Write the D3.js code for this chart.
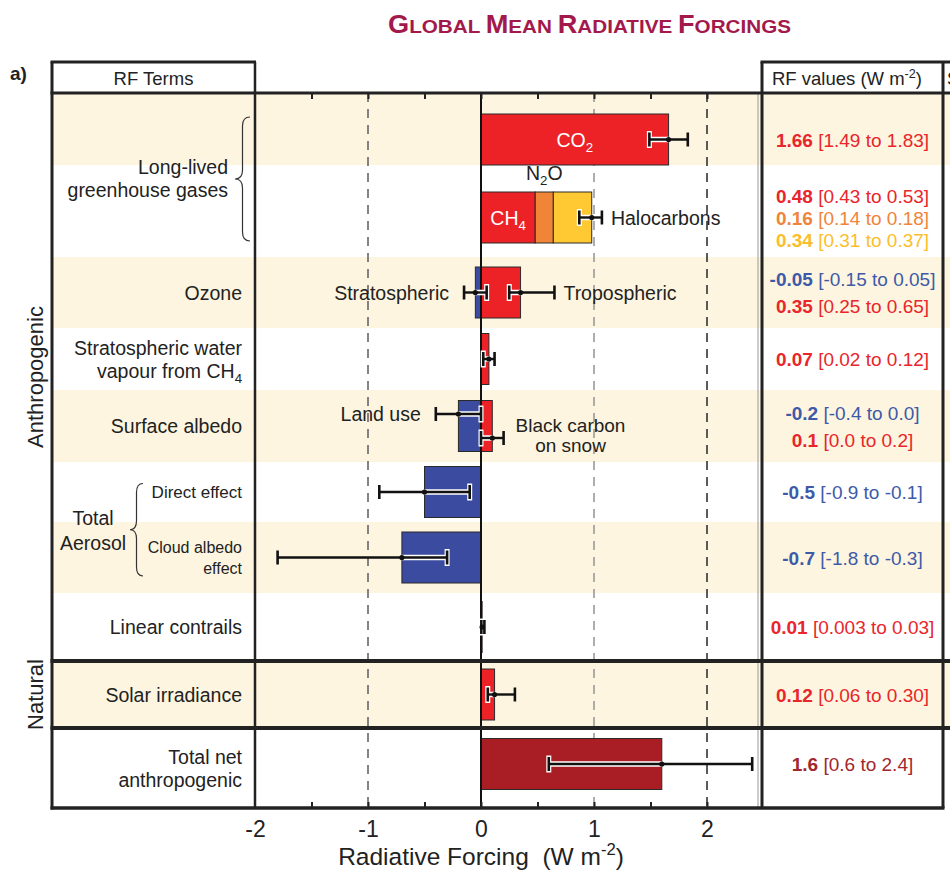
<!DOCTYPE html>
<html><head><meta charset="utf-8">
<script src="https://cdn.jsdelivr.net/npm/d3@7"></script>
<style>body{margin:0;background:#fff} svg{display:block}</style>
</head><body><svg id="c" width="950" height="871"></svg>
<script>
// ---------------- DATA ----------------
const barTerms = ["CO2","CH4","N2O","Halocarbons","Stratospheric ozone","Tropospheric ozone","Stratospheric water vapour from CH4","Land use","Black carbon on snow","Aerosol direct effect","Aerosol cloud albedo effect","Linear contrails","Solar irradiance","Total net anthropogenic"];
const barRow   = [0,1,1,1,2,2,3,4,4,5,6,7,8,9];
const barValue = [1.66,0.48,0.16,0.34,-0.05,0.35,0.07,-0.2,0.1,-0.5,-0.7,0.01,0.12,1.6];
const barKind  = ["warm","warm","n2o","halo","cool","warm","warm","cool","warm","cool","cool","warm","warm","total"];
const valueLabels = ["1.66 [1.49 to 1.83]","0.48 [0.43 to 0.53]","0.16 [0.14 to 0.18]","0.34 [0.31 to 0.37]","-0.05 [-0.15 to 0.05]","0.35 [0.25 to 0.65]","0.07 [0.02 to 0.12]","-0.2 [-0.4 to 0.0]","0.1 [0.0 to 0.2]","-0.5 [-0.9 to -0.1]","-0.7 [-1.8 to -0.3]","0.01 [0.003 to 0.03]","0.12 [0.06 to 0.30]","1.6 [0.6 to 2.4]"];

const errRow   = [0,1,2,2,3,4,4,5,6,7,8,9];
const errValue = [1.66,0.98,-0.05,0.35,0.07,-0.2,0.1,-0.5,-0.7,0.01,0.12,1.6];
const errLow   = [1.49,0.87,-0.15,0.25,0.02,-0.4,0.0,-0.9,-1.8,0.003,0.06,0.6];
const errHigh  = [1.83,1.07,0.05,0.65,0.12,0.0,0.2,-0.1,-0.3,0.03,0.30,2.4];
const errLane  = [0,0,0,0,0,-1,1,0,0,0,0,0];

const rowLabels = [["Long-lived","greenhouse gases"],["Ozone"],["Stratospheric water","vapour from CH_{4}"],["Surface albedo"],["Direct effect"],["Cloud albedo","effect"],["Linear contrails"],["Solar irradiance"],["Total net","anthropogenic"]];
const rowLabelFirst = [0,2,3,4,5,6,7,8,9];
const rowLabelLast  = [1,2,3,4,5,6,7,8,9];
const groupLabels = ["Anthropogenic","Natural"];
const groupFirst = [0,8];
const groupLast  = [7,8];
const aerosolLabel = ["Total","Aerosol"];
const aerosolRows = [5,6];

const annText = [["Stratospheric"],["Tropospheric"],["Halocarbons"],["Land use"],["Black carbon","on snow"]];
const annErr  = [2,3,1,5,6];
const annSide = ["left","right","right","left","right"];
const barTags = ["CO_{2}","CH_{4}","N_{2}O"];
const barTagBar = [0,1,2];
const barTagPlace = ["inside","inside","above"];

const xTicks = [-2,-1,0,1,2];
const xMinor = [-1.5,-1,-0.5,0,0.5,1,1.5,2];
const gridValues = [-1,1,2];
const titleWords = ["GLOBAL","MEAN","RADIATIVE","FORCINGS"];

// ---------------- LAYOUT / STYLE ----------------
const F = "'Liberation Sans', Arial, Helvetica, sans-serif";
const INK = "#222";
const kindFill = {warm:"#EC2227", n2o:"#F08537", halo:"#FFC933", cool:"#3A4BA0", total:"#A81E24"};
const kindText = {warm:"#E8262B", n2o:"#F0843A", halo:"#FBBE2A", cool:"#3D5AA8", total:"#A3262C"};
const gridColor = ["#666","#9a9a9a","#333"];
const rowLabelSize = [19.5,19.5,19.5,19.5,17,16,19.5,19.5,19.5];
const beige = "#FDF5DF";
const bandEdges = [93,165,257,328,390,462,522,593,661,728,808];
// bar slots: the two greenhouse-gas bars share their group, bars sit a little low in the header row
const slotEdges = bandEdges.slice(); slotEdges[0]=101; slotEdges[1]=178; slotEdges[10]=800;
const L = {left:52, termsRight:255, valLeft:762, valRight:943, right:950, top:62, head:93, bottom:808};
const barH = 51, capH = 14;

const svg = d3.select("#c").attr("font-family", F);
const x  = d3.scaleLinear().domain([-2,2]).range([255,707]);
const yS = d3.scaleLinear().domain(d3.range(bandEdges.length)).range(slotEdges);
const yB = d3.scaleLinear().domain(d3.range(bandEdges.length)).range(bandEdges);
const fill = d3.scaleOrdinal().domain(Object.keys(kindFill)).range(Object.values(kindFill));

function rich(t, str, size){
  const re = /([_^])\{([^}]*)\}/g; let last=0, m, shift=0;
  function seg(s, target, fs){ if(!s) return; const sp=t.append("tspan").text(s); const d=target-shift; if(d) sp.attr("dy",d); shift=target; if(fs) sp.attr("font-size",fs); }
  while((m=re.exec(str))!==null){
    seg(str.slice(last,m.index),0);
    seg(m[2], m[1]==="_" ? 0.28*size : -0.40*size, size*0.68);
    last = re.lastIndex;
  }
  seg(str.slice(last),0);
  return t;
}

// stripes
const stripes = d3.range(bandEdges.length-1).filter(i=>i%2===0);
svg.append("g").selectAll("rect").data(stripes).join("rect")
  .attr("x", L.left).attr("width", L.right-L.left)
  .attr("y", i=>yB(i)).attr("height", i=>yB(i+1)-yB(i)).attr("fill", beige);

// title
const title = svg.append("text").attr("x",388).attr("y",33).attr("fill","#A3194B")
  .attr("font-weight","bold").attr("textLength",403).attr("lengthAdjust","spacingAndGlyphs");
titleWords.forEach((w,k)=>{
  title.append("tspan").attr("font-size",25).text(w[0]);
  title.append("tspan").attr("font-size",19).text(w.slice(1) + (k<titleWords.length-1?" ":""));
});
svg.append("text").attr("x",10).attr("y",80).attr("font-size",19).attr("font-weight","bold").attr("fill",INK).text("a)");

// headers
svg.append("text").attr("x",(L.left+L.termsRight)/2).attr("y",85).attr("text-anchor","middle").attr("font-size",18.5).attr("fill",INK).text("RF Terms");
rich(svg.append("text").attr("x",772).attr("y",85).attr("font-size",18.5).attr("fill",INK),"RF values (W m^{-2})",18.5);
svg.append("text").attr("x",947).attr("y",85).attr("font-size",18.5).attr("fill",INK).text("S");

// grid lines
svg.append("g").selectAll("line").data(gridValues).join("line")
  .attr("x1",d=>x(d)).attr("x2",d=>x(d)).attr("y1",L.head).attr("y2",L.bottom)
  .attr("stroke",(d,i)=>gridColor[i]).attr("stroke-width",1.6).attr("stroke-dasharray","9,7");
svg.append("line").attr("x1",758).attr("x2",758).attr("y1",L.head).attr("y2",L.bottom).attr("stroke","#999").attr("stroke-width",1);

// bars (stacked by row for positive values)
const extents = barValue.map((v,i)=>{
  if(v<0) return [v,0];
  let s=0; for(let j=0;j<i;j++) if(barRow[j]===barRow[i] && barValue[j]>0) s+=barValue[j];
  return [s, s+v];
});
const rowMin = {}, rowMax = {};
extents.forEach((e,i)=>{ const r=barRow[i]; rowMin[r]=Math.min(rowMin[r]??0,e[0]); rowMax[r]=Math.max(rowMax[r]??0,e[1]); });
const yc = r => yS(r+0.5);
svg.append("g").selectAll("rect").data(barValue.map((v,i)=>i)).join("rect")
  .attr("x", i=>x(extents[i][0])).attr("width", i=>x(extents[i][1])-x(extents[i][0]))
  .attr("y", i=>yc(barRow[i])-barH/2).attr("height", barH)
  .attr("fill", i=>fill(barKind[i])).attr("stroke","#2a2a2a").attr("stroke-width",1);

// zero line
svg.append("line").attr("x1",x(0)).attr("x2",x(0)).attr("y1",L.head).attr("y2",L.bottom).attr("stroke","#111").attr("stroke-width",2);

// error bars
const eg = svg.append("g");
errValue.forEach((v,i)=>{
  const r=errRow[i], y=yc(r)+errLane[i]*12, lo=errLow[i], hi=errHigh[i];
  const a=Math.max(lo,rowMin[r]), b=Math.min(hi,rowMax[r]);
  if(b>a) eg.append("line").attr("x1",x(a)).attr("x2",x(b)).attr("y1",y).attr("y2",y).attr("stroke","#fff").attr("stroke-width",5.5);
  [lo,hi].forEach(c=>{ if(c>=rowMin[r]&&c<=rowMax[r]) eg.append("line").attr("x1",x(c)).attr("x2",x(c)).attr("y1",y-capH/2-1.5).attr("y2",y+capH/2+1.5).attr("stroke","#fff").attr("stroke-width",5); });
  eg.append("line").attr("x1",x(lo)).attr("x2",x(hi)).attr("y1",y).attr("y2",y).attr("stroke","#111").attr("stroke-width",2.4);
  [lo,hi].forEach(c=> eg.append("line").attr("x1",x(c)).attr("x2",x(c)).attr("y1",y-capH/2).attr("y2",y+capH/2).attr("stroke","#111").attr("stroke-width",2.6));
  eg.append("circle").attr("cx",x(v)).attr("cy",y).attr("r",2.6).attr("fill","#111");
});

// annotations
const ag = svg.append("g").attr("font-size",19.5).attr("fill",INK);
annText.forEach((lines,k)=>{
  const i=annErr[k], y=yc(errRow[i])+errLane[i]*12;
  if(annSide[k]==="left"){
    ag.append("text").attr("x",x(errLow[i])-15).attr("y",y+7).attr("text-anchor","end").text(lines[0]);
  } else if(lines.length===1){
    ag.append("text").attr("x",x(errHigh[i])+9).attr("y",y+7).text(lines[0]);
  } else {
    const t0=ag.append("text").attr("y",y-6).attr("text-anchor","middle").attr("font-size",19).text(lines[0]);
    const w=t0.node().getComputedTextLength(), cx=x(errHigh[i])+12+w/2;
    t0.attr("x",cx);
    ag.append("text").attr("x",cx).attr("y",y+14).attr("text-anchor","middle").attr("font-size",19).text(lines[1]);
  }
});
barTags.forEach((s,k)=>{
  const i=barTagBar[k], cx=(x(extents[i][0])+x(extents[i][1]))/2, y=yc(barRow[i]);
  const t=svg.append("text").attr("x",cx).attr("text-anchor","middle").attr("font-size",19.5);
  if(barTagPlace[k]==="inside") t.attr("y",y+7).attr("fill","#fff");
  else t.attr("y",y-barH/2-12).attr("fill",INK);
  rich(t,s,19.5);
});

// values column
const vg = svg.append("g").attr("font-size",19);
const rows = d3.group(barValue.map((v,i)=>i), i=>barRow[i]);
rows.forEach((idx,r)=>{
  const n=idx.length, sp = n>=3?22:27;
  idx.forEach((i,k)=>{
    const y=yc(r)+(k-(n-1)/2)*sp;
    const s=valueLabels[i], cut=s.indexOf(" ");
    const t=vg.append("text").attr("x",(L.valLeft+L.valRight)/2).attr("y",y+7).attr("text-anchor","middle").attr("fill",kindText[barKind[i]]);
    t.append("tspan").attr("font-weight","bold").text(s.slice(0,cut));
    t.append("tspan").text(s.slice(cut));
  });
});

// row labels
const lg = svg.append("g").attr("fill",INK).attr("text-anchor","end");
rowLabels.forEach((lines,k)=>{
  const first=rowLabelFirst[k], last=rowLabelLast[k], fs=rowLabelSize[k];
  const cy = (first===last) ? yB(first+0.5) : yS(first+1);
  const xr = (first===last) ? 242 : 228;
  const lh = fs < 19 ? 21 : 23;
  lines.forEach((ln,j)=>{
    const t=lg.append("text").attr("font-size",fs).attr("x",xr).attr("y",cy+(j-(lines.length-1)/2)*lh+fs*0.36);
    rich(t,ln,fs);
  });
});
aerosolLabel.forEach((ln,j)=>{
  svg.append("text").attr("x",93).attr("y",yB(aerosolRows[1])+8+(j-0.5)*25+7).attr("text-anchor","middle").attr("font-size",19.5).attr("fill",INK).text(ln);
});
groupLabels.forEach((g,k)=>{
  const cy=(yB(groupFirst[k])+yB(groupLast[k]+1))/2;
  svg.append("text").attr("transform",`translate(43,${cy}) rotate(-90)`).attr("text-anchor","middle").attr("font-size",22).attr("fill",INK).text(g);
});

// braces
function brace(xr, y1, y2, w){
  const xm=xr-w/2, ym=(y1+y2)/2, r=9;
  return `M${xr},${y1} Q${xm},${y1} ${xm},${y1+r} L${xm},${ym-r} Q${xm},${ym} ${xr-w},${ym} Q${xm},${ym} ${xm},${ym+r} L${xm},${y2-r} Q${xm},${y2} ${xr},${y2}`;
}
svg.append("path").attr("d",brace(250,yc(0)-barH/2+3,yc(1)+barH/2-2,15)).attr("fill","none").attr("stroke","#333").attr("stroke-width",1.2);
svg.append("path").attr("d",brace(143,yc(5)-barH/2+17,yc(6)+barH/2-7,13)).attr("fill","none").attr("stroke","#333").attr("stroke-width",1.2);

// axes
const ax = svg.append("g").attr("transform",`translate(0,${L.bottom})`)
  .call(d3.axisBottom(x).tickValues(xTicks).tickSize(0).tickPadding(12.5).tickFormat(d=>String(d)));
ax.select(".domain").remove();
ax.selectAll("text").attr("font-size",23).attr("font-family",F).attr("fill",INK);
const mb = svg.append("g").attr("transform",`translate(0,${L.bottom})`).call(d3.axisTop(x).tickValues(xMinor).tickSize(6).tickFormat(""));
const mt = svg.append("g").attr("transform",`translate(0,${L.head})`).call(d3.axisBottom(x).tickValues(xMinor).tickSize(6).tickFormat(""));
[mb,mt].forEach(g=>{ g.select(".domain").remove(); g.selectAll("line").attr("stroke",INK).attr("stroke-width",2); });
rich(svg.append("text").attr("x",x(0)).attr("y",865).attr("text-anchor","middle").attr("font-size",24.5).attr("fill",INK),"Radiative Forcing \u00A0(W m^{-2})",24.5);

// frame
const fr = svg.append("g").attr("stroke",INK).attr("fill","none");
const seg = (x1,y1,x2,y2,w)=>fr.append("line").attr("x1",x1).attr("y1",y1).attr("x2",x2).attr("y2",y2).attr("stroke-width",w);
seg(L.left-1.5,L.top,L.termsRight+1,L.top,3);
seg(L.valLeft-1.5,L.top,L.right,L.top,3);
seg(L.left-1.5,L.head,L.right,L.head,3);
seg(L.left,L.top,L.left,L.bottom+1.5,3);
seg(L.termsRight,L.top,L.termsRight,L.bottom,2.5);
seg(L.valLeft,L.top,L.valLeft,L.bottom,3);
seg(L.valRight,L.top,L.valRight,L.bottom,3);
seg(L.left-1.5,bandEdges[8],L.right,bandEdges[8],4);
seg(L.left-1.5,bandEdges[9],L.right,bandEdges[9],4);
seg(L.left-1.5,L.bottom,L.valRight+1.5,L.bottom,3.5);
</script></body></html>
